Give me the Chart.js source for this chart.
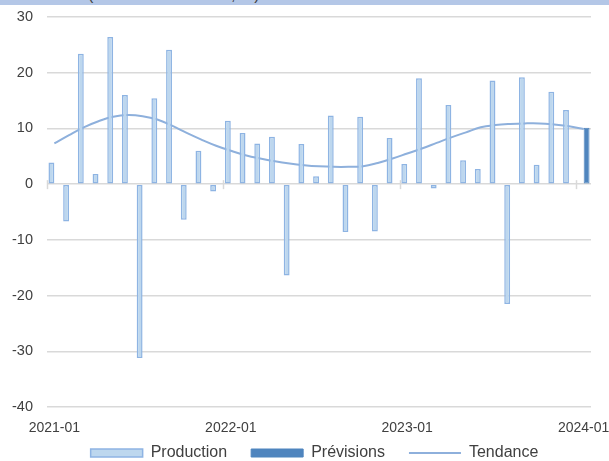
<!DOCTYPE html>
<html>
<head>
<meta charset="utf-8">
<script src="https://cdn.jsdelivr.net/npm/chart.js@4"></script>
<style>
  html, body { margin: 0; padding: 0; background: #fff; }
  #wrap { position: relative; width: 609px; height: 461px; overflow: hidden; }
  #band { position: absolute; left: 0; top: 0; width: 609px; height: 5px; background: #B4C7E7; overflow: hidden; z-index: 2; }
  #band span { position: absolute; left: 7px; top: -13px; font: 16px "Liberation Sans", Arial, sans-serif; line-height: 16px; color: #404040; white-space: nowrap; }
  canvas { position: absolute; left: 0; top: 0; }
</style>
</head>
<body>
<div id="wrap">
  <div id="band"><span>Production (variation mensuelle, %)</span></div>
  <canvas id="chart" width="609" height="461"></canvas>
</div>
<script>
const months = [
  '2021-01','2021-02','2021-03','2021-04','2021-05','2021-06','2021-07','2021-08','2021-09','2021-10','2021-11','2021-12',
  '2022-01','2022-02','2022-03','2022-04','2022-05','2022-06','2022-07','2022-08','2022-09','2022-10','2022-11','2022-12',
  '2023-01','2023-02','2023-03','2023-04','2023-05','2023-06','2023-07','2023-08','2023-09','2023-10','2023-11','2023-12',
  '2024-01'
];
const production = [3.9, -6.7, 23.4, 1.8, 26.4, 16.0, -31.2, 15.4, 24.1, -6.4, 6.0, -1.3,
  11.4, 9.2, 7.3, 8.5, -16.4, 7.2, 1.4, 12.3, -8.6, 12.1, -8.5, 8.3,
  3.6, 19.0, -0.8, 14.2, 4.3, 2.7, 18.6, -21.5, 19.2, 3.5, 16.6, 13.3,
  null];
const previsions = [null, null, null, null, null, null, null, null, null, null, null, null,
  null, null, null, null, null, null, null, null, null, null, null, null,
  null, null, null, null, null, null, null, null, null, null, null, null,
  10.1];
const tendance = [7.3, 8.8, 10.2, 11.3, 12.1, 12.4, 12.2, 11.6, 10.5, 9.2, 8.0, 6.9,
  6.0, 5.2, 4.6, 4.1, 3.7, 3.4, 3.2, 3.1, 3.1, 3.2, 3.8, 4.6,
  5.5, 6.4, 7.4, 8.4, 9.3, 10.2, 10.6, 10.8, 10.9, 10.9, 10.7, 10.4,
  9.9];

const FONT = '"Liberation Sans", Arial, sans-serif';
const GRID = '#D9D9D9';

// small tick marks across the zero line, every 12 months
const zeroTicks = {
  id: 'zeroTicks',
  afterLayout(chart) {
    // legend row sits just under the axis labels, centred a bit right
    chart.legend.top -= 16;
    chart.legend.left += 19;
    chart.legend.right += 19;
  },
  afterDatasetsDraw(chart) {
    const x = chart.scales.x, y = chart.scales.y;
    const y0 = y.getPixelForValue(0);
    const half = (x.getPixelForValue(1) - x.getPixelForValue(0)) / 2;
    const ctx = chart.ctx;
    ctx.save();
    ctx.strokeStyle = GRID;
    ctx.lineWidth = 1.5;
    for (let i = 0; i < months.length; i += 12) {
      const px = Math.round(x.getPixelForValue(i) - half) + 0.5;
      ctx.beginPath();
      ctx.moveTo(px, y0 - 4);
      ctx.lineTo(px, y0 + 5);
      ctx.stroke();
    }
    ctx.restore();
  }
};

new Chart(document.getElementById('chart'), {
  data: {
    labels: months,
    datasets: [
      {
        type: 'bar', label: 'Production', data: production,
        backgroundColor: '#BDD7EE', borderColor: '#8EB4E3', borderWidth: 1.5,
        borderSkipped: false, pointStyle: 'rect',
        categoryPercentage: 0.8, barPercentage: 1
      },
      {
        type: 'bar', label: 'Prévisions', data: previsions,
        backgroundColor: '#4F85BE', borderColor: '#4F85BE', borderWidth: 1,
        borderSkipped: false, pointStyle: 'rect',
        categoryPercentage: 0.8, barPercentage: 1
      },
      {
        type: 'line', label: 'Tendance', data: tendance,
        borderColor: '#8EB0DC', backgroundColor: '#8EB0DC', borderWidth: 2,
        pointRadius: 0, tension: 0.4, pointStyle: 'line'
      }
    ]
  },
  options: {
    responsive: false,
    animation: false,
    layout: { padding: { top: 17, left: 0, right: 18, bottom: 0 } },
    scales: {
      x: {
        offset: true,
        grid: { display: false },
        border: { display: false },
        ticks: {
          autoSkip: false, maxRotation: 0, padding: 5,
          color: '#404040', font: { family: FONT, size: 14 },
          callback: (v, i) => (i % 12 === 0 ? months[i] : null)
        },
        afterFit: s => { s.height = 30; s.paddingLeft = 0; s.paddingRight = 0; }
      },
      y: {
        min: -40, max: 30,
        grid: { color: GRID, lineWidth: 1.5, drawTicks: false },
        border: { display: false },
        ticks: { stepSize: 10, padding: 14, color: '#404040', font: { family: FONT, size: 14.5 } },
        afterFit: s => { s.width = 47; s.paddingTop = 0; s.paddingBottom = 0; }
      }
    },
    plugins: {
      legend: {
        position: 'bottom',
        maxHeight: 24,
        labels: {
          usePointStyle: true, pointStyleWidth: 52, boxHeight: 8,
          padding: 24, color: '#404040', font: { family: FONT, size: 16 }
        }
      },
      tooltip: { enabled: false }
    }
  },
  plugins: [zeroTicks]
});
</script>
</body>
</html>
